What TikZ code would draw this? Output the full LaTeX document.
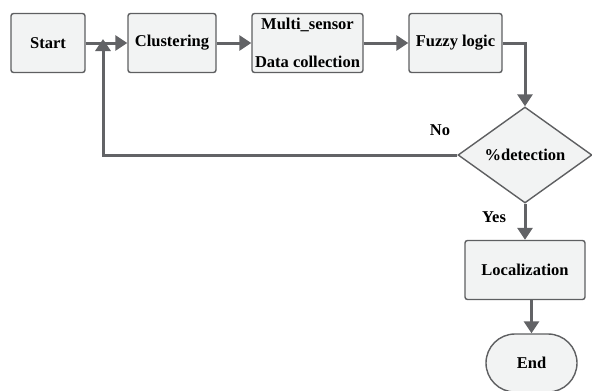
\documentclass[tikz,border=0pt]{standalone}
\usepackage{fontspec}
\setmainfont{Liberation Serif}
\usetikzlibrary{shapes.geometric,shapes.misc,arrows.meta}
\definecolor{boxfill}{HTML}{F2F3F3}
\definecolor{boxdraw}{HTML}{5E5F61}
\definecolor{arr}{HTML}{626366}
\begin{document}
\begin{tikzpicture}[x=1pt,y=-1pt,
  font=\rmfamily\bfseries\fontsize{16.5}{18}\selectfont,
  box/.style={draw=boxdraw,fill=boxfill,line width=1.4pt,rounded corners=2.5pt,inner sep=0pt},
  conn/.style={draw=arr,line width=3pt,-{Triangle[length=12pt,width=15pt]}},
  lbl/.style={inner sep=0pt}]
\useasboundingbox (0,0) rectangle (592,391);
\node[box,minimum width=74pt,minimum height=59pt] (start) at (48,43) {Start};
\node[box,minimum width=88pt,minimum height=59pt] (clus) at (172,43) {Clustering};
\node[box,minimum width=111pt,minimum height=59pt] (multi) at (307.5,43) {};
\node[lbl] (m1) at (307.5,25) {Multi\_sensor};
\node[lbl] (m2) at (307.5,62) {Data collection};
\node[box,minimum width=93pt,minimum height=59pt] (fuzzy) at (455.5,43) {Fuzzy logic};
\node[diamond,draw=boxdraw,fill=boxfill,line width=1.4pt,minimum width=134pt,minimum height=96pt,inner sep=0pt,aspect=1.4] (det) at (525,155) {\%detection};
\node[box,minimum width=120pt,minimum height=59pt] (loc) at (525,270) {Localization};
\node[rounded rectangle,draw=boxdraw,fill=boxfill,line width=1.4pt,minimum width=91pt,minimum height=58pt,inner sep=0pt] (end) at (531.5,363) {End};
\node[lbl] (no) at (440,130) {No};
\node[lbl] (yes) at (494,217) {Yes};
\coordinate (j) at (103,43);
\coordinate (c1) at (525,43);
\coordinate (c2) at (103,155);
\draw[conn] (start.east) -- (clus.west);
\draw[conn] (clus.east) -- (multi.west);
\draw[conn] (multi.east) -- (fuzzy.west);
\draw[conn] (fuzzy.east) -- (c1) -- (det.north);
\draw[conn] (det.west) -- (c2) -- ([yshift=4pt]j);
\draw[conn] (det.south) -- (loc.north);
\draw[conn] (loc.south -| end.north) -- (end.north);
\end{tikzpicture}
\end{document}
